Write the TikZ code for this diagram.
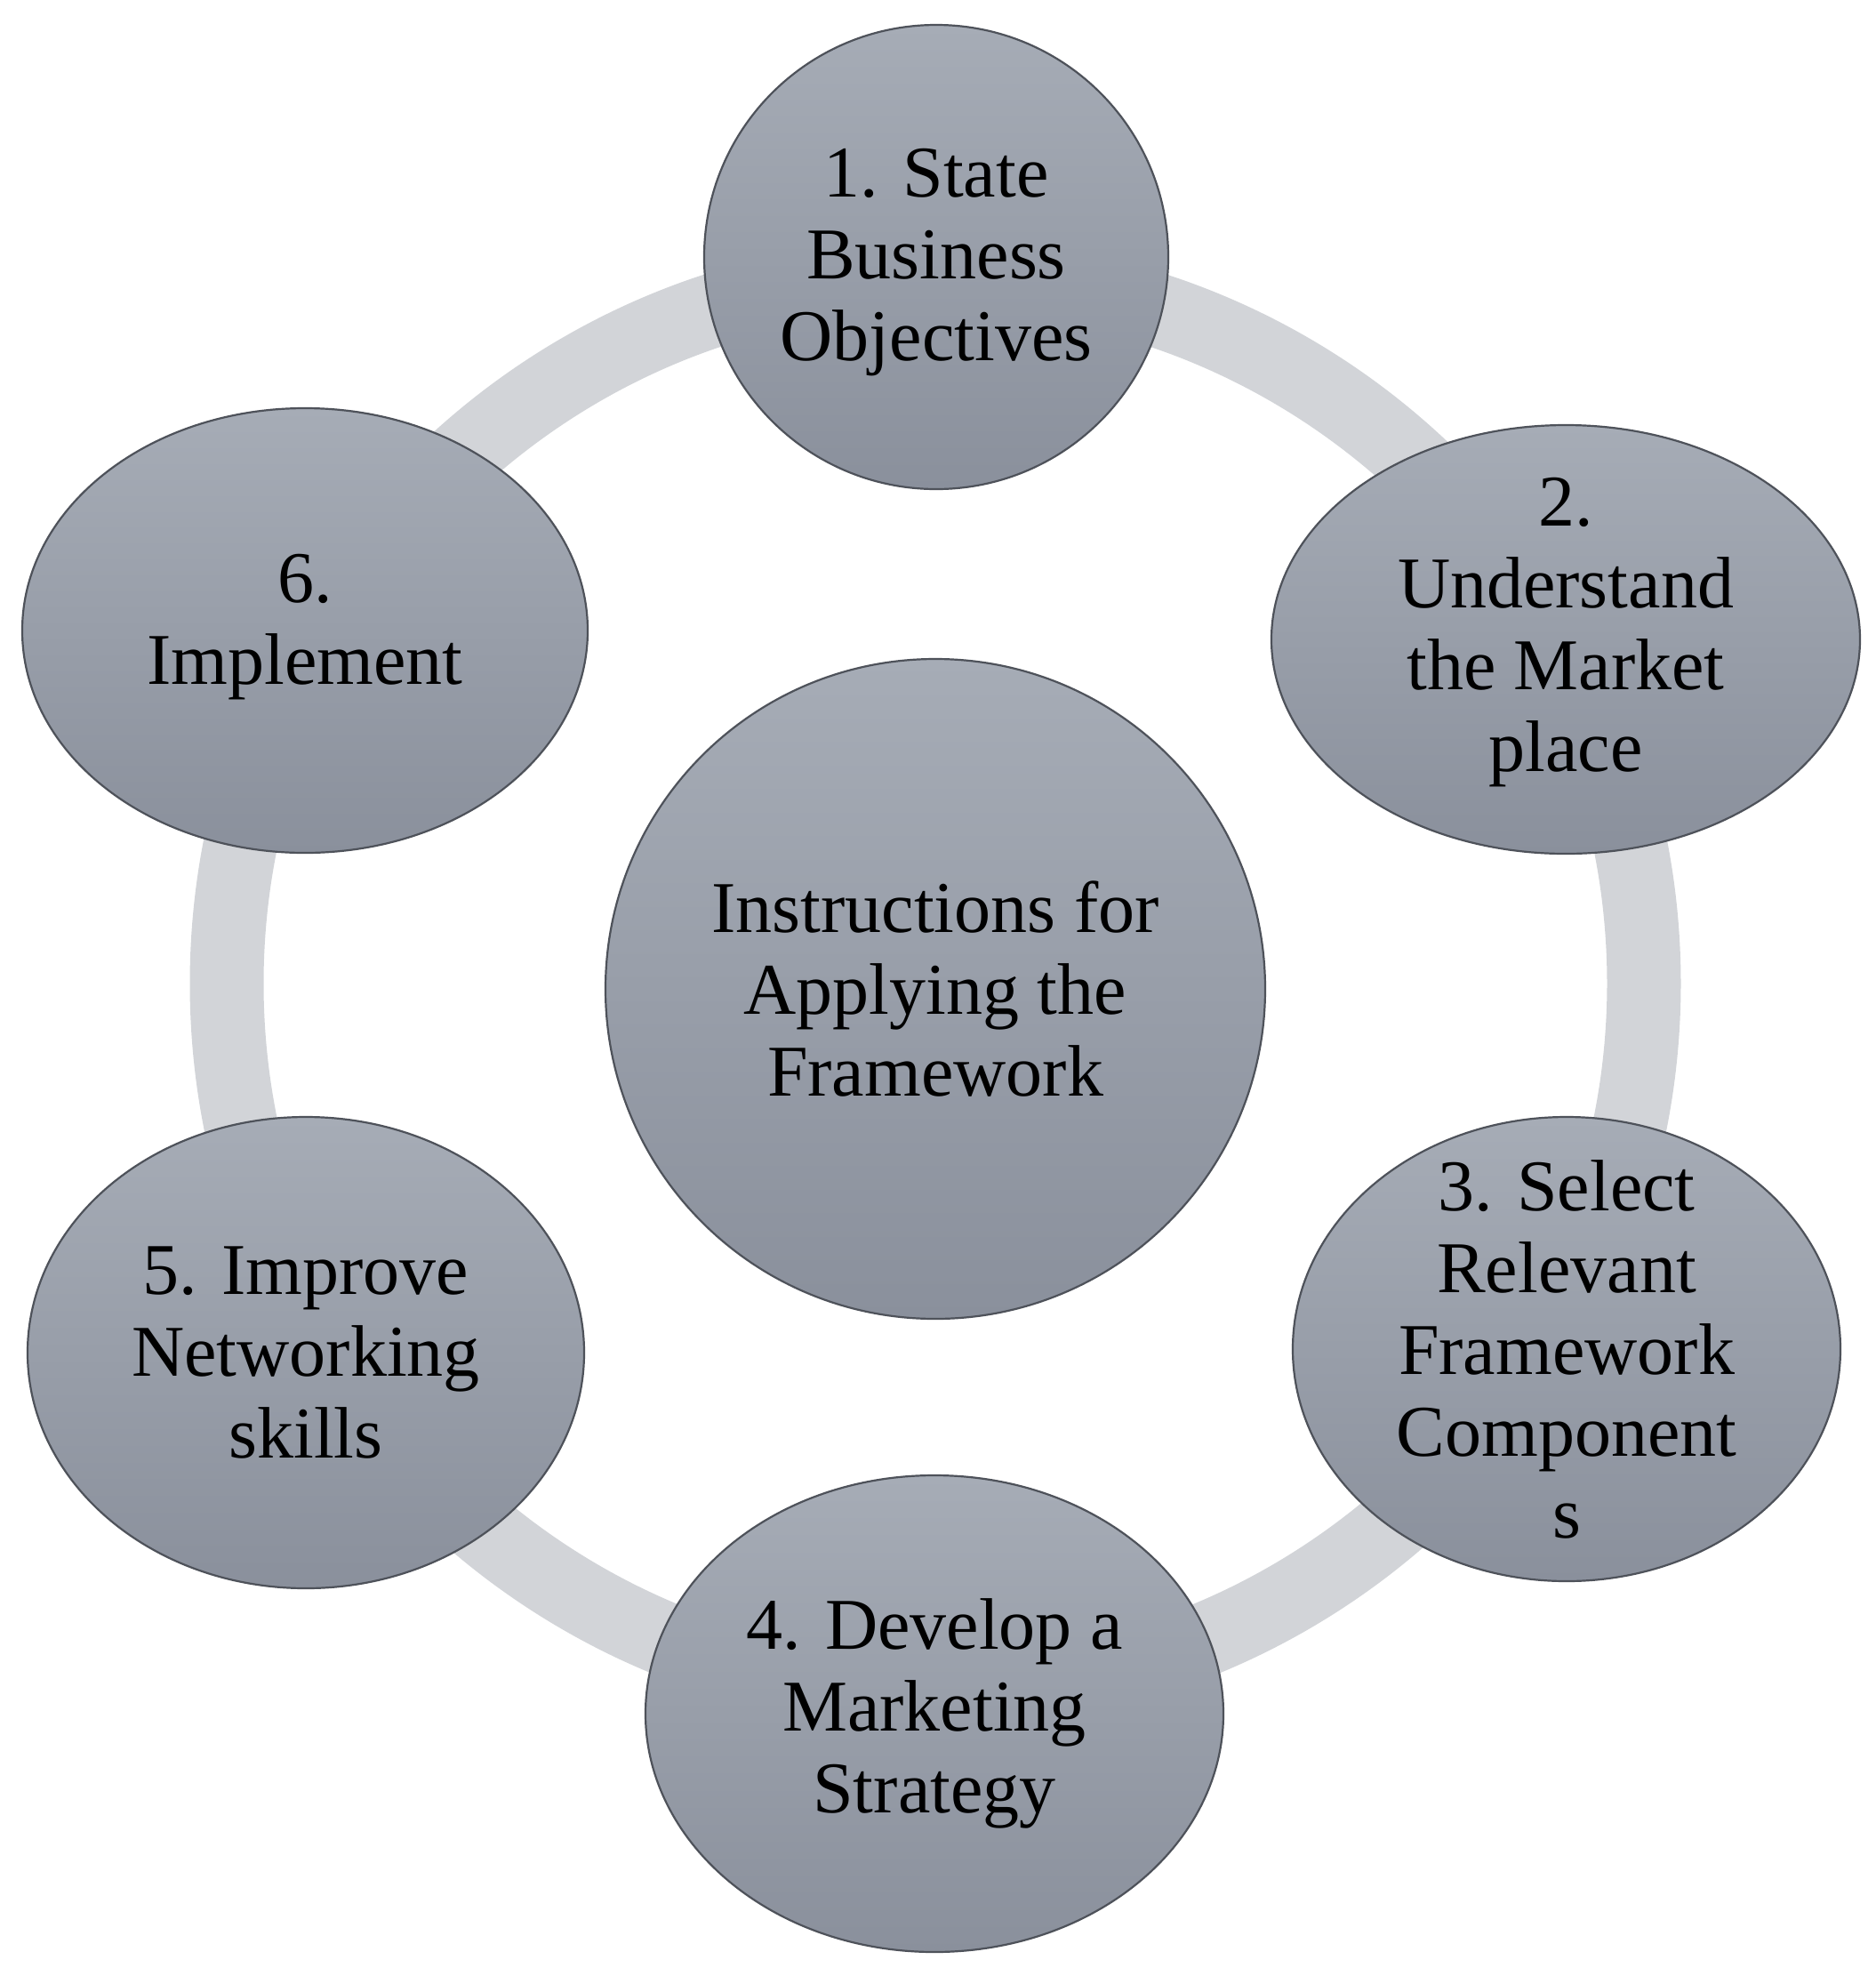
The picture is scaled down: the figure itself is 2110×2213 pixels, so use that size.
\documentclass[tikz,border=0pt]{standalone}
\usepackage{fontspec}
\setmainfont{Liberation Serif}
\usetikzlibrary{shapes.geometric,backgrounds}
\definecolor{topc}{HTML}{A6ACB6}
\definecolor{botc}{HTML}{8A909C}
\definecolor{ringc}{HTML}{D2D4D8}
\definecolor{edgec}{HTML}{4E525A}
\tikzset{
  stepnode/.style={ellipse, inner sep=0pt, top color=topc, bottom color=botc,
    draw=edgec, line width=1.1pt},
  steptext/.style={align=center, inner sep=0pt,
    font=\fontsize{41}{46}\selectfont},
  ringline/.style={draw=ringc, line width=41.5pt},
}
\begin{document}
\begin{tikzpicture}[x=0.5pt,y=-0.5pt]
\useasboundingbox (0,0) rectangle (2110,2213);
\node[stepnode, minimum width=371pt, minimum height=371pt,
  label={[steptext, name=hubt]center:Instructions for\\Applying the\\Framework}] (hub) at (1052,1112) {};
\node[stepnode, minimum width=261pt, minimum height=261pt,
  label={[steptext, name=s1t, yshift=-3pt]center:1. State\\Business\\Objectives}] (s1) at (1053,289) {};
\node[stepnode, minimum width=331pt, minimum height=241pt,
  label={[steptext, name=s2t, yshift=4pt]center:2.\\Understand\\the Market\\place}] (s2) at (1761,719) {};
\node[stepnode, minimum width=308pt, minimum height=261pt,
  label={[steptext, name=s3t]center:3. Select\\Relevant\\Framework\\Component\\s}] (s3) at (1762,1517) {};
\node[stepnode, minimum width=325pt, minimum height=268pt,
  label={[steptext, name=s4t]center:4. Develop a\\Marketing\\Strategy}] (s4) at (1051,1927) {};
\node[stepnode, minimum width=313pt, minimum height=265pt,
  label={[steptext, name=s5t]center:5. Improve\\Networking\\skills}] (s5) at (344,1521) {};
\node[stepnode, minimum width=318pt, minimum height=250pt,
  label={[steptext, name=s6t, yshift=2pt]center:6.\\Implement}] (s6) at (343,709) {};
\begin{scope}[on background layer]
\draw[ringline] ([yshift=3pt]hub.center) circle[radius=797];
\end{scope}
\end{tikzpicture}
\end{document}
